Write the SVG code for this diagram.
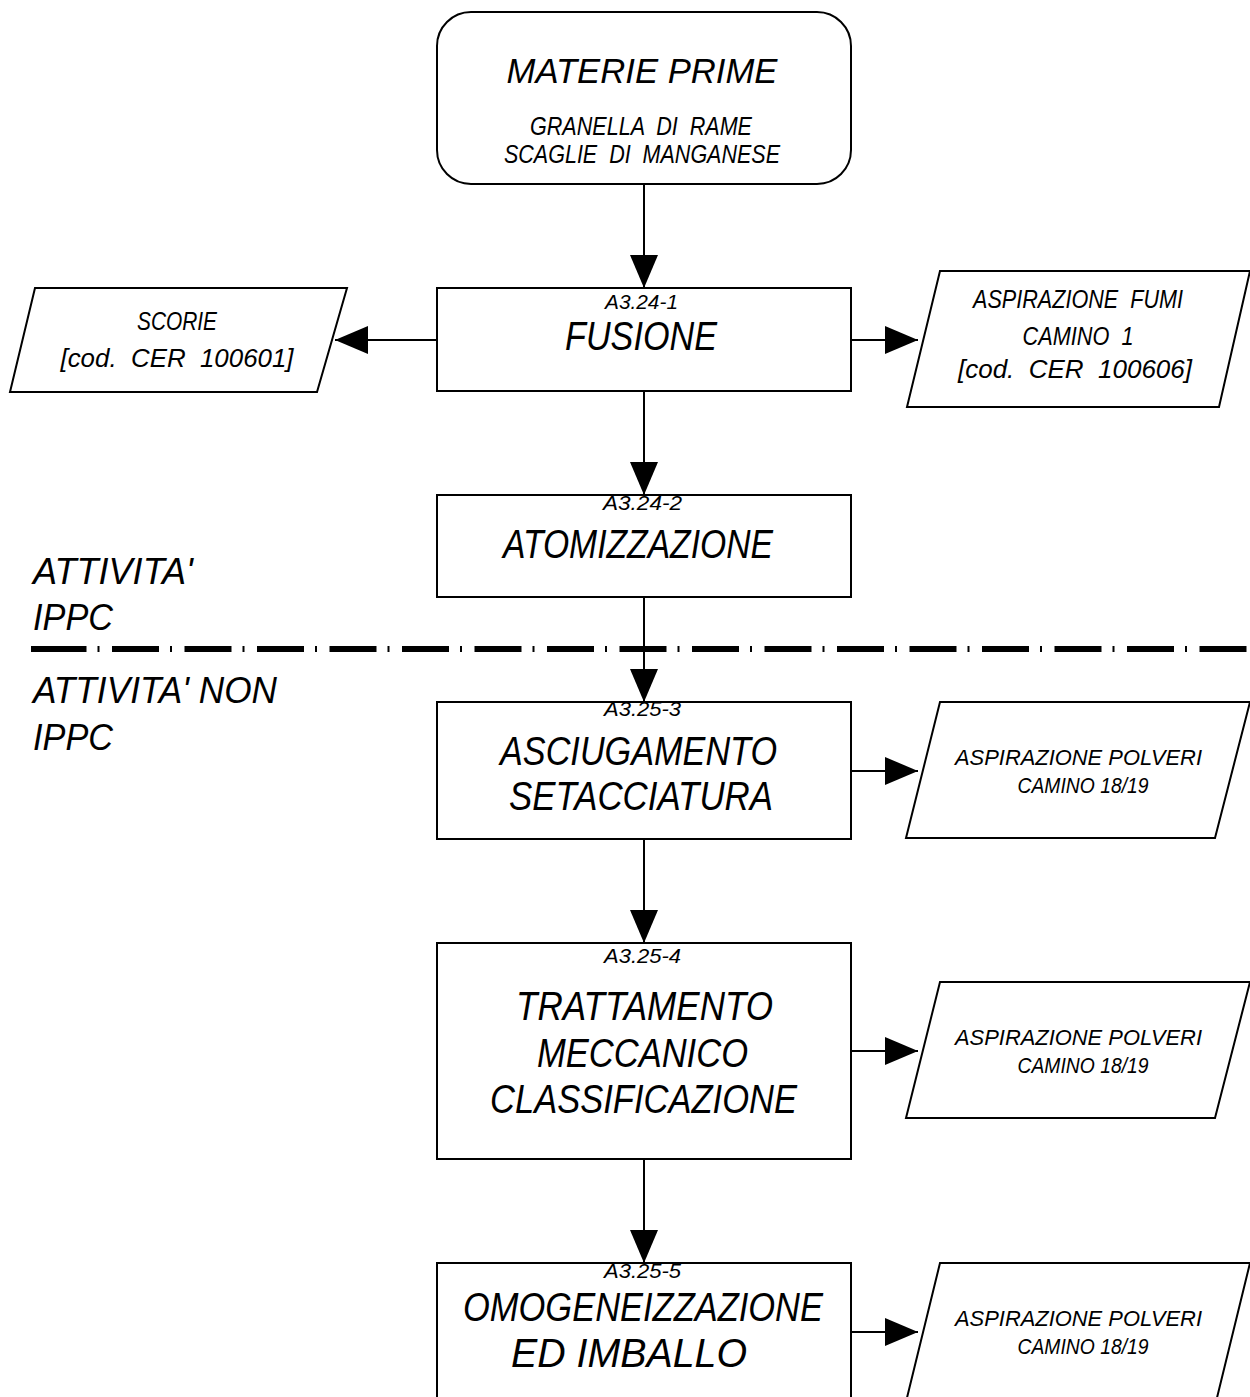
<svg xmlns="http://www.w3.org/2000/svg" width="1250" height="1397" viewBox="0 0 1250 1397">
<style>
.box{fill:#fff;stroke:#000;stroke-width:2}
.con{fill:none;stroke:#000;stroke-width:2}
text{font-family:"Liberation Sans",Arial,sans-serif;font-style:italic;fill:#000;text-anchor:middle}
.t{font-size:40px}
.c{font-size:21px}
.s{font-size:25px;white-space:pre}
.p{font-size:22px}
.lbl{font-size:36px;text-anchor:start}
.sep{stroke:#000;stroke-width:6;fill:none}
</style>
<defs>
<marker id="ah" markerUnits="userSpaceOnUse" markerWidth="34" markerHeight="28" refX="33" refY="14" orient="auto" viewBox="0 0 34 28">
<path d="M0,0 L33,14 L0,28 Z" fill="#000"/>
</marker>
</defs>
<rect width="1250" height="1397" fill="#fff"/>

<g id="separator">
<line class="sep" x1="31" y1="649" x2="41" y2="649"/>
<line class="sep" x1="39.5" y1="649" x2="1250" y2="649" stroke-dasharray="47 11 2 12.5"/>
</g>
<g id="labels">
<text class="lbl" x="33" y="584" textLength="160" lengthAdjust="spacingAndGlyphs">ATTIVITA'</text>
<text class="lbl" x="33" y="630" textLength="80" lengthAdjust="spacingAndGlyphs">IPPC</text>
<text class="lbl" x="33" y="703" textLength="244" lengthAdjust="spacingAndGlyphs">ATTIVITA' NON</text>
<text class="lbl" x="33" y="750" textLength="80" lengthAdjust="spacingAndGlyphs">IPPC</text>
</g>

<g id="connectors">
<line class="con" x1="644" y1="185" x2="644" y2="288" marker-end="url(#ah)"/>
<line class="con" x1="644" y1="391" x2="644" y2="495" marker-end="url(#ah)"/>
<line class="con" x1="644" y1="597" x2="644" y2="702" marker-end="url(#ah)"/>
<line class="con" x1="644" y1="839" x2="644" y2="943" marker-end="url(#ah)"/>
<line class="con" x1="644" y1="1159" x2="644" y2="1263" marker-end="url(#ah)"/>
<line class="con" x1="437" y1="340" x2="335" y2="340" marker-end="url(#ah)"/>
<line class="con" x1="851" y1="340" x2="918" y2="340" marker-end="url(#ah)"/>
<line class="con" x1="851" y1="771" x2="918" y2="771" marker-end="url(#ah)"/>
<line class="con" x1="851" y1="1051" x2="918" y2="1051" marker-end="url(#ah)"/>
<line class="con" x1="851" y1="1332" x2="918" y2="1332" marker-end="url(#ah)"/>
</g>

<g id="materie-prime">
<rect class="box" x="437" y="12" width="414" height="172" rx="34" ry="34"/>
<text class="t" x="642" y="83" style="font-size:35px" textLength="271" lengthAdjust="spacingAndGlyphs">MATERIE PRIME</text>
<text class="s" x="641" y="135" textLength="222" lengthAdjust="spacingAndGlyphs">GRANELLA  DI  RAME</text>
<text class="s" x="642" y="163" textLength="276" lengthAdjust="spacingAndGlyphs">SCAGLIE  DI  MANGANESE</text>
</g>

<g id="fusione">
<rect class="box" x="437" y="288" width="414" height="103"/>
<text class="c" x="641.5" y="309" textLength="73" lengthAdjust="spacingAndGlyphs">A3.24-1</text>
<text class="t" x="641" y="350" textLength="152" lengthAdjust="spacingAndGlyphs">FUSIONE</text>
</g>

<g id="scorie">
<polygon class="box" points="35,288 347,288 317,392 10,392"/>
<text class="s" x="177" y="330" textLength="80" lengthAdjust="spacingAndGlyphs">SCORIE</text>
<text class="s" x="177" y="367" textLength="233" lengthAdjust="spacingAndGlyphs">[cod.  CER  100601]</text>
</g>

<g id="fumi">
<polygon class="box" points="940,271 1250,271 1219,407 907,407"/>
<text class="s" x="1078" y="308" textLength="210" lengthAdjust="spacingAndGlyphs">ASPIRAZIONE  FUMI</text>
<text class="s" x="1078" y="345" textLength="111" lengthAdjust="spacingAndGlyphs">CAMINO  1</text>
<text class="s" x="1075" y="378" textLength="234" lengthAdjust="spacingAndGlyphs">[cod.  CER  100606]</text>
</g>

<g id="atomizzazione">
<rect class="box" x="437" y="495" width="414" height="102"/>
<text class="c" x="642.5" y="510" textLength="79" lengthAdjust="spacingAndGlyphs">A3.24-2</text>
<text class="t" x="638" y="558" textLength="270" lengthAdjust="spacingAndGlyphs">ATOMIZZAZIONE</text>
</g>

<g id="asciugamento">
<rect class="box" x="437" y="702" width="414" height="137"/>
<text class="c" x="642.5" y="716" textLength="77" lengthAdjust="spacingAndGlyphs">A3.25-3</text>
<text class="t" x="638.5" y="765" textLength="277" lengthAdjust="spacingAndGlyphs">ASCIUGAMENTO</text>
<text class="t" x="641" y="810" textLength="264" lengthAdjust="spacingAndGlyphs">SETACCIATURA</text>
</g>

<g id="polveri-1">
<polygon class="box" points="940,702 1250,702 1215,838 906,838"/>
<text class="p" x="1078.5" y="765" textLength="247" lengthAdjust="spacingAndGlyphs">ASPIRAZIONE POLVERI</text>
<text class="p" x="1083" y="793" textLength="131" lengthAdjust="spacingAndGlyphs">CAMINO 18/19</text>
</g>

<g id="trattamento">
<rect class="box" x="437" y="943" width="414" height="216"/>
<text class="c" x="642.5" y="963" textLength="77" lengthAdjust="spacingAndGlyphs">A3.25-4</text>
<text class="t" x="644.5" y="1020" textLength="257" lengthAdjust="spacingAndGlyphs">TRATTAMENTO</text>
<text class="t" x="642.5" y="1067" textLength="211" lengthAdjust="spacingAndGlyphs">MECCANICO</text>
<text class="t" x="643.5" y="1113" textLength="307" lengthAdjust="spacingAndGlyphs">CLASSIFICAZIONE</text>
</g>

<g id="polveri-2">
<polygon class="box" points="940,982 1250,982 1215,1118 906,1118"/>
<text class="p" x="1078.5" y="1045" textLength="247" lengthAdjust="spacingAndGlyphs">ASPIRAZIONE POLVERI</text>
<text class="p" x="1083" y="1073" textLength="131" lengthAdjust="spacingAndGlyphs">CAMINO 18/19</text>
</g>

<g id="omogeneizzazione">
<rect class="box" x="437" y="1263" width="414" height="200"/>
<text class="c" x="642.5" y="1278" textLength="77" lengthAdjust="spacingAndGlyphs">A3.25-5</text>
<text class="t" x="643" y="1321" textLength="360" lengthAdjust="spacingAndGlyphs">OMOGENEIZZAZIONE</text>
<text class="t" x="629" y="1367" textLength="236" lengthAdjust="spacingAndGlyphs">ED IMBALLO</text>
</g>

<g id="polveri-3">
<polygon class="box" points="940,1263 1250,1263 1214,1410 904,1410"/>
<text class="p" x="1078.5" y="1326" textLength="247" lengthAdjust="spacingAndGlyphs">ASPIRAZIONE POLVERI</text>
<text class="p" x="1083" y="1354" textLength="131" lengthAdjust="spacingAndGlyphs">CAMINO 18/19</text>
</g>
</svg>
